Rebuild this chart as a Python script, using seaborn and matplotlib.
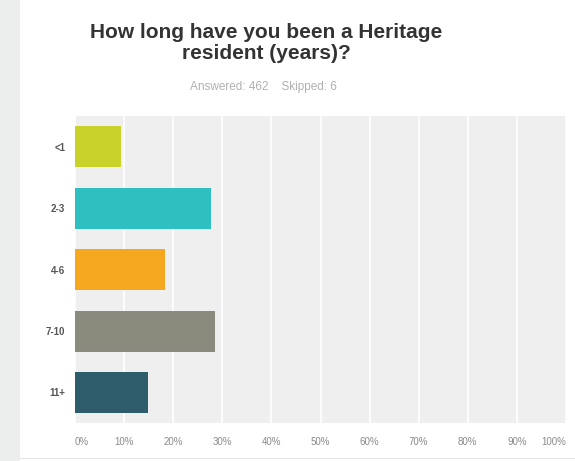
import pandas as pd
import matplotlib.pyplot as plt
import seaborn as sns
from matplotlib.patches import Rectangle

# dados
faixas = ['<1', '2-3', '4-6', '7-10', '11+']
percentual = [9.4, 27.8, 18.4, 28.6, 14.9]
cores = ['#c9d22a', '#2fbfc1', '#f5a81f', '#8a8b7c', '#2e5c6b']
ticks_x = [0, 10, 20, 30, 40, 50, 60, 70, 80, 90, 100]
rotulos_x = [f'{t}%' for t in ticks_x]

DF = pd.DataFrame({'faixa': faixas, 'pct': percentual})

sns.set_style('white')
plt.rcParams['font.family'] = ['Liberation Sans', 'DejaVu Sans']

fig = plt.figure(figsize=(5.75, 4.61), dpi=100)
fig.patch.set_facecolor('white')
# faixa cinza na esquerda (borda do print)
fig.patches.append(Rectangle((0, 0), 0.035, 1, transform=fig.transFigure,
                             facecolor='#eceeee', edgecolor='none', zorder=0))
# linha fina embaixo
fig.patches.append(Rectangle((0.035, 0.004), 0.965, 0.003, transform=fig.transFigure,
                             facecolor='#e4e4e4', edgecolor='none', zorder=0))

ax = fig.add_axes([0.1304, 0.082, 0.854, 0.666])
ax.set_facecolor('#efefef')
sns.barplot(data=DF, y='faixa', x='pct', hue='faixa', palette=cores,
            order=faixas, width=0.67, saturation=1, legend=False,
            linewidth=0, edgecolor='none', ax=ax, zorder=3)

ax.set_xlim(0, 100)
ax.set_ylim(4.5, -0.5)
ax.set_xticks(ticks_x)
ax.set_xticklabels(rotulos_x, fontsize=7, color='#8a8a8a')
xl = ax.get_xticklabels()
xl[0].set_horizontalalignment('left')
xl[-1].set_horizontalalignment('right')
ax.tick_params(axis='x', length=0, pad=10)
ax.tick_params(axis='y', length=0, pad=7)
for lbl in ax.get_yticklabels():
    lbl.set_fontsize(7)
    lbl.set_fontweight('bold')
    lbl.set_color('#555555')
ax.xaxis.grid(True, color='white', linewidth=1.2, zorder=1)
ax.set_axisbelow(True)
for s in ax.spines.values():
    s.set_visible(False)
ax.set_xlabel('')
ax.set_ylabel('')

fig.text(0.463, 0.906, 'How long have you been a Heritage\nresident (years)?',
         ha='center', va='center', fontsize=15, fontweight='bold',
         color='#333333', linespacing=1.12)
fig.text(0.458, 0.811, 'Answered: 462    Skipped: 6', ha='center', va='center',
         fontsize=8.5, color='#b0b0b0')

fig.savefig('out.png', dpi=100)
